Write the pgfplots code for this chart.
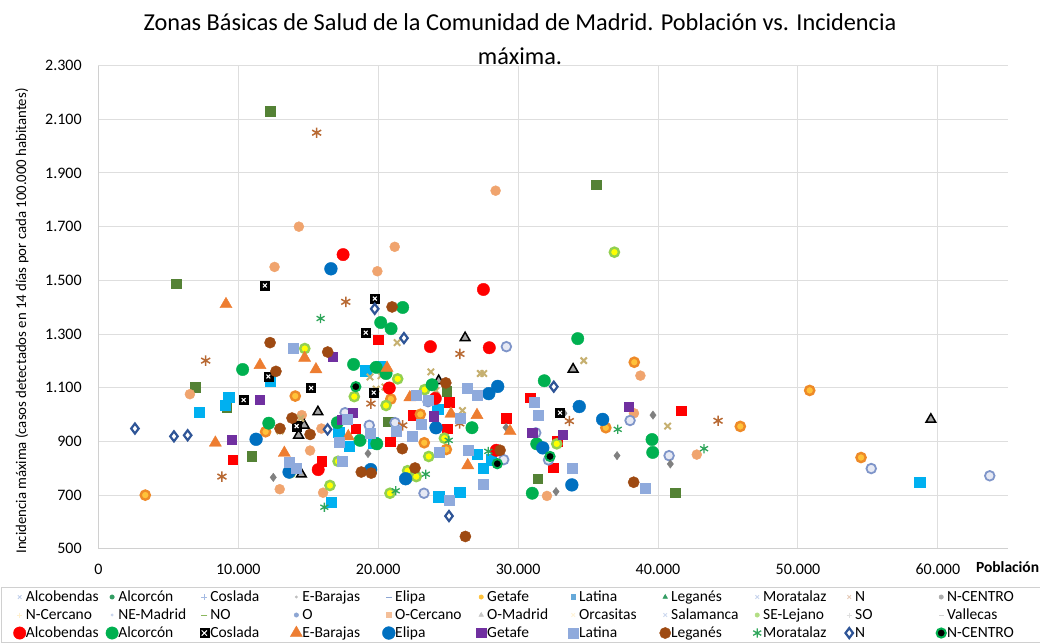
\documentclass[border=0pt]{standalone}
\usepackage{pgfplots}
\pgfplotsset{compat=1.18}
\usepackage{fontspec}
\setmainfont{Carlito}
\definecolor{cRed}{HTML}{FF0000}
\definecolor{cGreen}{HTML}{00B050}
\definecolor{cDGreen}{HTML}{548235}
\definecolor{cOrange}{HTML}{ED7D31}
\definecolor{cBlue}{HTML}{0070C0}
\definecolor{cPurple}{HTML}{7030A0}
\definecolor{cLBlue}{HTML}{8FAADC}
\definecolor{cCyan}{HTML}{00B0F0}
\definecolor{cBrown}{HTML}{9E4A12}
\definecolor{cGAst}{HTML}{2EA55A}
\definecolor{cNavy}{HTML}{2F5597}
\definecolor{cPeach}{HTML}{F0A46E}
\definecolor{cRingO}{HTML}{EE8A28}
\definecolor{cGold}{HTML}{FFC23A}
\definecolor{cYG}{HTML}{92D050}
\definecolor{cYellow}{HTML}{FFFF00}
\definecolor{cGrayT}{HTML}{A5A5A5}
\definecolor{cLCirc}{HTML}{E6E9F4}
\definecolor{cLCircB}{HTML}{7F95C9}
\definecolor{cBAst}{HTML}{B86A34}
\definecolor{cKhaki}{HTML}{C6B070}
\definecolor{cGDiam}{HTML}{808080}
\definecolor{gridgray}{HTML}{DEDEDE}
\definecolor{axisgray}{HTML}{D0D0D0}
\definecolor{leggray}{HTML}{D0D0D0}

\pgfplotstableread{
x y
12150 1142
10380 1054
14170 957
19760 1432
19110 1305
15200 1099
19680 1082
33000 1007
11900 1481
}\coslada

\newcommand{\LE}[1]{\addlegendentry{\makebox[76pt][l]{#1}}}
\newcommand{\LEL}[1]{\addlegendentry{\makebox[81pt][l]{#1}}}

\begin{document}
\begin{tikzpicture}[x=1pt,y=1pt]
\begin{axis}[
  scale only axis, width=909.4pt, height=483.2pt,
  xmin=0, xmax=65000, ymin=500, ymax=2300,
  xtick={0,10000,20000,30000,40000,50000,60000},
  ytick={500,700,900,1100,1300,1500,1700,1900,2100,2300},
  grid=major, major grid style={draw=gridgray, line width=1pt},
  axis x line*=bottom, axis y line*=left,
  axis line style={draw=axisgray, line width=1pt, -},
  major tick length=0pt,
  scaled x ticks=false, scaled y ticks=false,
  /pgf/number format/1000 sep={.},
  /pgf/number format/assume math mode=true,
  tick label style={font=\fontsize{16}{19}\selectfont},
  yticklabel style={anchor=east, inner sep=0pt, xshift=-16.5pt},
  xticklabel style={anchor=north, inner sep=0pt, yshift=-15pt},
  xlabel={\textbf{Población}},
  xlabel style={at={(axis description cs:1,0)}, anchor=east, inner sep=0pt, xshift=31.5pt, yshift=-18pt, font=\fontsize{15.5}{18}\selectfont},
  legend columns=11,
  legend cell align=left,
  legend style={at={(axis description cs:-0.1071,-0.0791)}, anchor=north west,
    draw=leggray, line width=1pt, inner xsep=12pt, inner ysep=2pt,
    font=\fontsize{15.5}{18}\selectfont,
    nodes={inner sep=0pt, text height=11.5pt, text depth=3.5pt},
    row sep=3pt,
    /tikz/every even column/.append style={column sep=4pt}},
  legend image code/.code={\path[draw=none,fill=none] (0pt,-6pt) rectangle (12pt,6pt); \draw[mark repeat=2,mark phase=2,#1] plot coordinates {(0pt,0pt)(6pt,0pt)(12pt,0pt)};},
]
\coordinate (O) at (rel axis cs:0,0);
% ---- legend rows 1 and 2 (small markers) ----
\addlegendimage{only marks, mark=x, mark size=2.5pt, color=cLBlue!60!white, line width=0.8pt}\LE{Alcobendas}
\addlegendimage{only marks, mark=*, mark size=2.2pt, color=cGreen!60!gray, line width=0.5pt}\LE{Alcorcón}
\addlegendimage{only marks, mark=+, mark size=3pt, color=cLBlue!80!white, line width=0.8pt}\LE{Coslada}
\addlegendimage{only marks, mark=*, mark size=1.2pt, color=gray!50, line width=0.5pt}\LE{E-Barajas}
\addlegendimage{only marks, mark=-, mark size=3pt, color=cLBlue!90!gray, line width=0.9pt}\LE{Elipa}
\addlegendimage{only marks, mark=*, mark size=2.2pt, color=cGold, line width=0.5pt}\LE{Getafe}
\addlegendimage{only marks, mark=square*, mark size=2.3pt, color=cBlue!60!white, line width=0.5pt}\LE{Latina}
\addlegendimage{only marks, mark=triangle*, mark size=2.6pt, color=cGreen!60!gray, line width=0.5pt}\LE{Leganés}
\addlegendimage{only marks, mark=x, mark size=2.5pt, color=cLBlue!50!white, line width=0.8pt}\LE{Moratalaz}
\addlegendimage{only marks, mark=x, mark size=2.5pt, color=cBAst!35!white, line width=0.8pt}\LE{N}
\addlegendimage{only marks, mark=*, mark size=2.2pt, color=gray!65, line width=0.5pt}\LEL{N-CENTRO}
\addlegendimage{only marks, mark=+, mark size=2.5pt, color=cGold!25!white, line width=0.8pt}\LE{N-Cercano}
\addlegendimage{only marks, mark=*, mark size=1.2pt, color=cLBlue!50!white, line width=0.5pt}\LE{NE-Madrid}
\addlegendimage{only marks, mark=-, mark size=3pt, color=cYG!70!gray, line width=0.9pt}\LE{NO}
\addlegendimage{only marks, mark=*, mark size=2.2pt, color=cLBlue!90!gray, line width=0.5pt}\LE{O}
\addlegendimage{only marks, mark=square*, mark size=2.3pt, color=cPeach!70!white, line width=0.5pt}\LE{O-Cercano}
\addlegendimage{only marks, mark=triangle*, mark size=2.6pt, color=gray!45, line width=0.5pt}\LE{O-Madrid}
\addlegendimage{only marks, mark=x, mark size=2.5pt, color=cGold!20!white, line width=0.8pt}\LE{Orcasitas}
\addlegendimage{only marks, mark=x, mark size=2.5pt, color=cLBlue!45!white, line width=0.8pt}\LE{Salamanca}
\addlegendimage{only marks, mark=*, mark size=2.2pt, color=cYG!70!white, line width=0.5pt}\LE{SE-Lejano}
\addlegendimage{only marks, mark=+, mark size=2.5pt, color=gray!25, line width=0.8pt}\LE{SO}
\addlegendimage{only marks, mark=-, mark size=2.5pt, color=gray!35, line width=0.8pt}\LEL{Vallecas}

% ---- extra series (no legend entry) ----
\addplot[forget plot, only marks, mark=square*, mark size=4.7pt, draw=cRed, fill=cRed, line width=0.4pt] table {
x y
9600 833
19990 1280
25060 1046
22490 997
29160 986
24920 947
18370 948
20860 898
15940 826
30870 1064
32800 901
32520 803
41670 1015
};
\addplot[forget plot, only marks, mark=square*, mark size=4.8pt, draw=cDGreen, fill=cDGreen, line width=0.4pt] table {
x y
6930 1103
9170 1028
10960 846
24900 1086
20720 973
31400 761
41210 709
12270 2131
5540 1487
35570 1856
};
\addplot[forget plot, only marks, mark=square*, mark size=5.2pt, draw=cCyan, fill=cCyan, line width=0.4pt] table {
x y
12270 1126
9310 1065
9050 1036
7190 1009
19110 1164
20150 1178
24250 1021
17180 934
17910 882
19650 895
27080 853
28060 832
27490 801
16660 673
24320 694
25820 711
58710 747
};
\addplot[forget plot, only marks, mark=*, mark size=5pt, draw=cPeach, fill=cPeach, line width=0.4pt] table {
x y
6540 1076
12960 722
14540 998
15940 948
15130 866
16060 709
32060 697
38740 1145
38280 1005
42770 851
28390 1834
14330 1700
21180 1625
12590 1550
19940 1534
};
\addplot[forget plot, only marks, mark=*, mark size=4.6pt, draw=cRingO, fill=cGold, line width=2.4pt] table {
x y
14070 1069
11950 936
3350 700
20900 1058
23010 1001
23290 895
24870 870
38300 1195
36270 951
45880 956
50840 1090
54510 840
};
\addplot[forget plot, only marks, mark=*, mark size=4.6pt, draw=cYG, fill=cYellow, line width=2.4pt] table {
x y
14750 1246
13720 783
17130 826
16550 736
21390 1133
18290 1067
20560 1034
23320 1093
24730 912
23610 844
22100 791
22720 769
20840 707
32760 891
36880 1605
};
\addplot[forget plot, only marks, mark=triangle*, mark size=5.6pt, draw=black, fill=cGrayT, line width=1.5pt] table {
x y
14310 923
15690 1010
14710 960
14510 778
26210 1286
24320 1126
33930 1169
59500 982
};
\addplot[forget plot, only marks, mark=*, mark size=4.8pt, draw=cLCircB, fill=cLCirc, line width=1.8pt] table {
x y
29160 1253
23560 1048
21200 970
19360 960
17630 1007
28970 832
23270 707
31260 932
32170 831
38000 978
40790 847
55240 799
63710 772
};
\addplot[forget plot, only marks, mark=asterisk, mark size=5.2pt, draw=cBAst, line width=1.5pt] table {
x y
7670 1201
8830 769
17680 1420
25840 1226
19480 1041
25820 967
21750 960
33660 976
44290 977
15600 2050
};
\addplot[forget plot, only marks, mark=x, mark size=4.5pt, draw=cKhaki, line width=2pt] table {
x y
14460 986
12980 939
21350 1268
19410 1140
20200 1145
23760 1159
27300 1153
27540 1153
19850 1095
20480 1103
24130 1090
26020 1015
34690 1201
40690 957
};
\addplot[forget plot, only marks, mark=diamond*, mark size=4.2pt, draw=cGDiam, fill=cGDiam, line width=0.4pt] table {
x y
12500 766
19270 855
29140 952
33280 1005
32710 713
39640 998
37070 847
40880 816
};

% ---- legend row 3 series ----
\addplot[only marks, mark=*, mark size=6.2pt, draw=cRed, fill=cRed, line width=0.4pt] table {
x y
23730 1253
27940 1249
20790 1099
24080 1060
28440 867
15710 795
17490 1596
27520 1466
};\LE{Alcobendas}
\addplot[only marks, mark=*, mark size=6.2pt, draw=cGreen, fill=cGreen, line width=0.4pt] table {
x y
10310 1168
12180 968
21750 1399
20180 1343
20920 1320
18240 1187
19850 1176
20560 1153
23850 1111
26700 951
18700 904
19900 891
31010 707
17080 970
34260 1283
31870 1126
39570 907
39620 859
31330 891
};\LE{Alcorcón}
\addplot[only marks, mark=square*, mark size=4.6pt, draw=black, fill=black, line width=0.4pt,
  legend image code/.code={\path[draw=none,fill=none] (0pt,-6pt) rectangle (12pt,6pt); \fill[black] (1.4pt,-4.6pt) rectangle (10.6pt,4.6pt); \draw[white,line width=1pt] (3.4pt,-2.6pt)--(8.6pt,2.6pt) (3.4pt,2.6pt)--(8.6pt,-2.6pt);}] table {\coslada};\LE{Coslada}
\addplot[forget plot, only marks, mark=x, mark size=2.7pt, draw=white, line width=1.1pt] table {\coslada};
\addplot[only marks, mark=triangle*, mark size=7pt, draw=cOrange, fill=cOrange, line width=0.4pt] table {
x y
9120 1411
11550 1184
13290 857
8360 895
14740 1211
15550 1168
20630 1174
22260 1064
25200 1003
27060 998
29420 938
17860 919
26400 811
};\LE{E-Barajas}
\addplot[only marks, mark=*, mark size=6.4pt, draw=cBlue, fill=cBlue, line width=0.4pt] table {
x y
11270 908
13630 786
28540 1105
27900 1078
24130 951
19460 795
21960 761
31760 876
34370 1030
36040 982
33840 738
16620 1543
};\LE{Elipa}
\addplot[only marks, mark=square*, mark size=4.6pt, draw=cPurple, fill=cPurple, line width=0.4pt] table {
x y
11530 1056
9530 906
16740 1216
23990 994
18170 1007
17390 982
31010 932
33190 926
37880 1030
};\LE{Getafe}
\addplot[only marks, mark=square*, mark size=5pt, draw=cLBlue, fill=cLBlue, line width=0.4pt] table {
x y
13890 1246
13630 823
14170 801
26330 1097
27080 1073
22750 1073
23590 1055
25840 986
23040 963
22420 919
21250 937
17750 982
19410 932
24370 859
26420 867
27520 742
17390 826
25080 682
31160 1045
31400 997
17200 897
33840 801
39050 726
};\LE{Latina}
\addplot[only marks, mark=*, mark size=5.6pt, draw=cBrown, fill=cBrown, line width=0.4pt] table {
x y
12270 1268
12690 1161
13840 987
12980 948
16390 1233
15130 926
20990 1401
24830 1118
21720 873
18790 786
19500 782
22630 801
28710 867
26230 546
38260 748
};\LE{Leganés}
\addplot[only marks, mark=asterisk, mark size=4.6pt, draw=cGAst, line width=1.3pt] table {
x y
15880 1358
25040 904
27870 863
23400 778
16150 655
21250 716
37120 945
43290 873
};\LE{Moratalaz}
\addplot[only marks, mark=diamond*, mark size=5pt, draw=cNavy, fill=white, line width=2.2pt] table {
x y
2610 948
5400 919
6380 923
16380 945
19750 1394
21840 1285
25060 622
32550 1104
};\LE{N}
\addplot[only marks, mark=*, mark size=4.6pt, draw=cGreen, fill=black, line width=2pt] table {
x y
18400 1104
28510 817
32280 844
};\LEL{N-CENTRO}
\end{axis}
\node[align=center, font=\fontsize{24.3}{34}\selectfont] at ([shift={(421.6,509.8)}]O) {Zonas Básicas de Salud de la Comunidad de Madrid. Población vs. Incidencia\\máxima.};
\node[rotate=90, font=\fontsize{14.8}{17}\selectfont] at ([shift={(-76.4,227.8)}]O) {Incidencia máxima (casos detectados en 14 días por cada 100.000 habitantes)};
\pgfresetboundingbox
\path[use as bounding box] ([shift={(-98.4,-94.2)}]O) rectangle ([shift={(941.6,548.8)}]O);
\end{tikzpicture}
\end{document}
